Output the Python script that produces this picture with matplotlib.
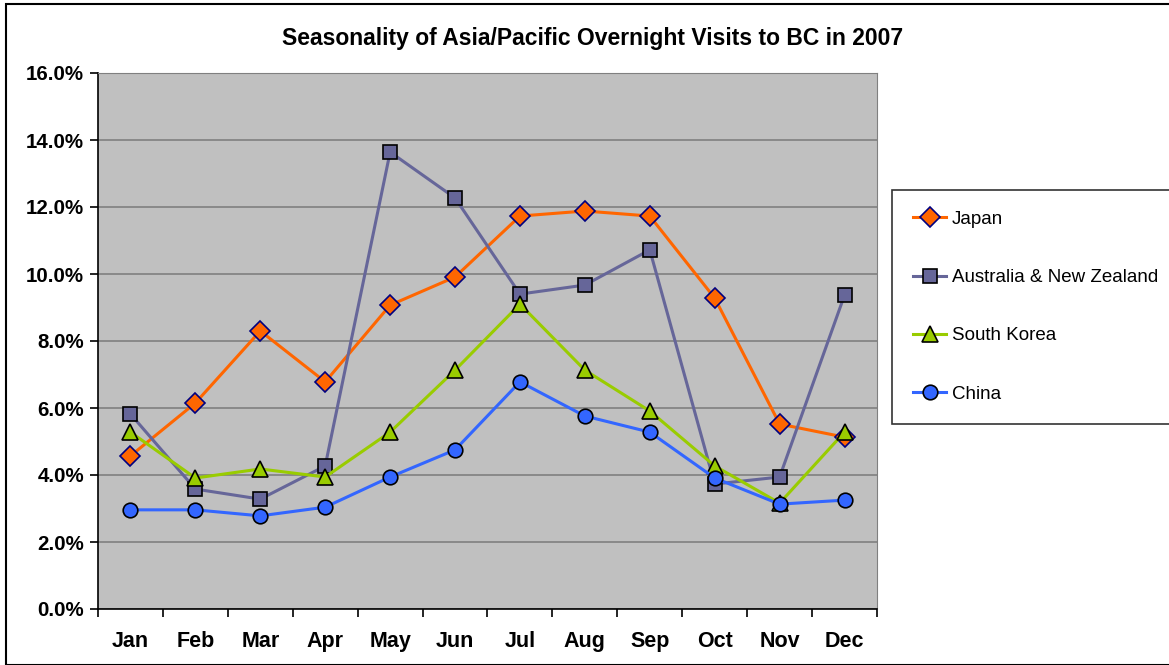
import matplotlib
matplotlib.use("Agg")
import matplotlib.pyplot as plt
from matplotlib.patches import Rectangle
from matplotlib.ticker import PercentFormatter

plt.rcParams["font.family"] = ["Liberation Sans", "DejaVu Sans"]

months = ["Jan", "Feb", "Mar", "Apr", "May", "Jun",
          "Jul", "Aug", "Sep", "Oct", "Nov", "Dec"]
japan = [4.57, 6.15, 8.30, 6.78, 9.07, 9.91, 11.73, 11.88, 11.73, 9.28, 5.52, 5.13]
aus_nz = [5.82, 3.58, 3.28, 4.27, 13.64, 12.27, 9.40, 9.67, 10.72, 3.73, 3.94, 9.37]
korea = [5.28, 3.91, 4.18, 3.94, 5.28, 7.13, 9.10, 7.13, 5.91, 4.27, 3.16, 5.28]
china = [2.96, 2.96, 2.78, 3.04, 3.94, 4.75, 6.78, 5.76, 5.28, 3.91, 3.13, 3.25]

fig = plt.figure(figsize=(11.69, 6.65), dpi=100)
ax = fig.add_axes([98 / 1169, 1 - 609 / 665, (877 - 98) / 1169, (609 - 73) / 665])
ax.set_facecolor("#C0C0C0")

x = range(len(months))
ax.plot(x, japan, color="#FF6600", lw=2.2, marker="D", ms=10,
        mfc="#FF6600", mec="#000080", mew=1.2, label="Japan", zorder=3)
ax.plot(x, aus_nz, color="#666699", lw=2.2, marker="s", ms=10.5,
        mfc="#666699", mec="black", mew=1.2, label="Australia & New Zealand", zorder=3)
ax.plot(x, korea, color="#99CC00", lw=2.2, marker="^", ms=11.5,
        mfc="#99CC00", mec="black", mew=1.2, label="South Korea", zorder=3)
ax.plot(x, china, color="#3366FF", lw=2.2, marker="o", ms=10.5,
        mfc="#3366FF", mec="black", mew=1.2, label="China", zorder=3)

ax.set_xlim(-0.5, 11.5)
ax.set_ylim(0, 16)
ax.set_yticks(range(0, 17, 2))
ax.yaxis.set_major_formatter(PercentFormatter(decimals=1))
ax.yaxis.grid(True, color="#808080", lw=1.2)
ax.set_axisbelow(True)

ax.set_xticks(list(x))
ax.set_xticklabels(months)
ax.set_xticks([i - 0.5 for i in range(13)], minor=True)
ax.tick_params(axis="x", which="major", length=0, pad=16)
ax.tick_params(axis="x", which="minor", length=6, width=1.2)
ax.tick_params(axis="y", length=6, width=1.2, pad=4)
for lab in ax.get_xticklabels():
    lab.set_fontsize(15.5)
    lab.set_fontweight("bold")
for lab in ax.get_yticklabels():
    lab.set_fontsize(14.8)
    lab.set_fontweight("bold")

for side in ["top", "right"]:
    ax.spines[side].set_color("#808080")
for side in ["left", "bottom"]:
    ax.spines[side].set_color("black")
    ax.spines[side].set_linewidth(1.2)

fig.text(593 / 1169, 1 - 38 / 665, "Seasonality of Asia/Pacific Overnight Visits to BC in 2007",
         ha="center", va="center", fontsize=16.5, fontweight="bold")

leg = fig.legend(loc="upper left", bbox_to_anchor=(892 / 1169, 1 - 190 / 665),
                 borderaxespad=0, frameon=True, fancybox=False, fontsize=13.5,
                 labelspacing=2.2, handlelength=1.8, borderpad=1.1, handletextpad=0.3)
leg.get_frame().set_edgecolor("black")
leg.get_frame().set_linewidth(1.2)

fig.patches.append(Rectangle((6 / 1169, 0.0), 1.2, 1 - 4 / 665, transform=fig.transFigure,
                             fill=False, edgecolor="black", lw=1.5))

fig.savefig("out.png", dpi=100)
plt.close(fig)
